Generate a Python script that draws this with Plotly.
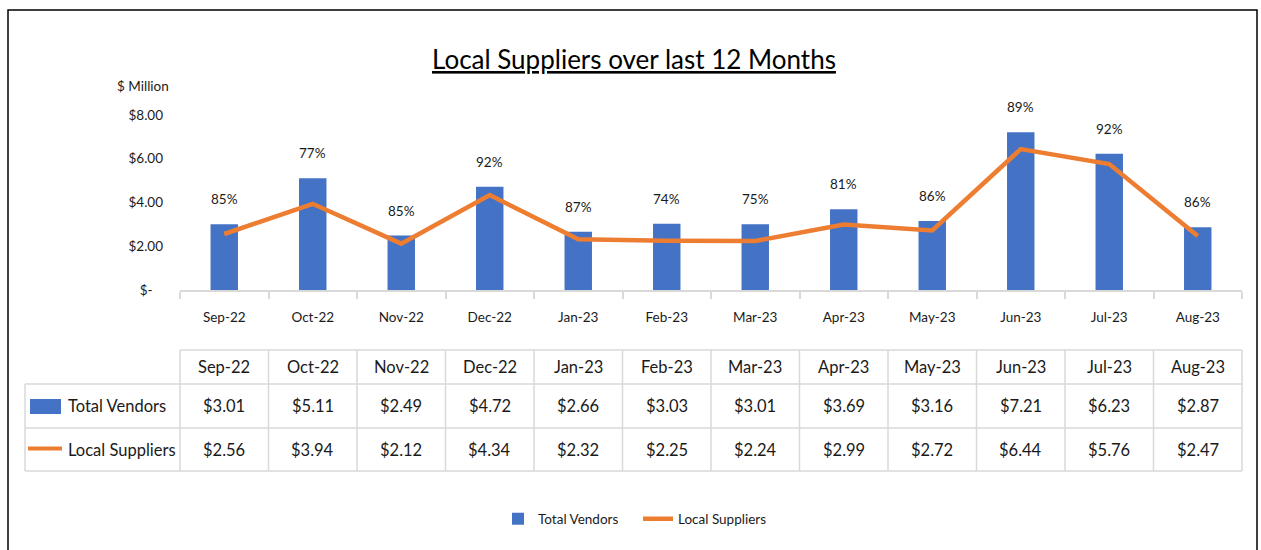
import plotly.graph_objects as go

months = ["Sep-22", "Oct-22", "Nov-22", "Dec-22", "Jan-23", "Feb-23",
          "Mar-23", "Apr-23", "May-23", "Jun-23", "Jul-23", "Aug-23"]
total_vendors = [3.01, 5.11, 2.49, 4.72, 2.66, 3.03, 3.01, 3.69, 3.16, 7.21, 6.23, 2.87]
local_suppliers = [2.56, 3.94, 2.12, 4.34, 2.32, 2.25, 2.24, 2.99, 2.72, 6.44, 5.76, 2.47]
local_share = ["85%", "77%", "85%", "92%", "87%", "74%", "75%", "81%", "86%", "89%", "92%", "86%"]
y_tickvals = [0, 2, 4, 6, 8]
y_ticktext = ["$-\u00a0\u00a0\u00a0", "$2.00", "$4.00", "$6.00", "$8.00"]

W, H = 1261, 550
FONT = "Lato, Liberation Sans, sans-serif"
BLUE = "#4472C4"
ORANGE = "#ED7D31"
GRID = "#D9D9D9"
TXT = "#1a1a1a"

# photographed picture maps page y -> SHOT_TOP + SHOT_SCALE * y
SHOT_TOP, SHOT_SCALE = 8.0, 534.0 / 550.0

x_left, x_right = 180, 1242
y_zero, y_top = 290, 115
xd0, xd1 = x_left / W, x_right / W
n = len(months)


def px(xp):
    return xp / W


def py(yp):
    page_y = (yp - SHOT_TOP) / SHOT_SCALE
    return (H - page_y) / H


def col_edge(k):
    return xd0 + (xd1 - xd0) * k / n


fig = go.Figure()
fig.add_trace(go.Bar(x=months, y=total_vendors, name="Total Vendors",
                     marker=dict(color=BLUE, line=dict(width=0)), hoverinfo="x+y"))
fig.add_trace(go.Scatter(x=months, y=local_suppliers, name="Local Suppliers", mode="lines",
                         line=dict(color=ORANGE, width=4.5)))

annotations = []
for m, v, s in zip(months, total_vendors, local_share):
    annotations.append(dict(x=m, y=v, xref="x", yref="y", text=s, showarrow=False,
                            xanchor="center", yanchor="bottom", yshift=15,
                            font=dict(family=FONT, size=13.5, color=TXT)))
annotations.append(dict(x=px(634), y=py(59), xref="paper", yref="paper",
                        text="<u>Local Suppliers over last 12 Months</u>",
                        xanchor="center", yanchor="middle",
                        showarrow=False, font=dict(family=FONT, size=26, color="#000000")))
annotations.append(dict(x=px(143), y=py(86), xref="paper", yref="paper",
                        text="$ Million", showarrow=False, xanchor="center", yanchor="middle",
                        font=dict(family=FONT, size=13.5, color=TXT)))

row_h = [350, 384, 428, 471]
hdr_c = (row_h[0] + row_h[1]) / 2
r1_c = (row_h[1] + row_h[2]) / 2
r2_c = (row_h[2] + row_h[3]) / 2
tfont = dict(family=FONT, size=16.5, color=TXT)
for i, m in enumerate(months):
    annotations.append(dict(x=m, y=py(hdr_c), xref="x", yref="paper", text=m,
                            xanchor="center", yanchor="middle", showarrow=False, font=tfont))
    annotations.append(dict(x=m, y=py(r1_c), xref="x", yref="paper", xanchor="center",
                            yanchor="middle", text=f"${total_vendors[i]:.2f}",
                            showarrow=False, font=tfont))
    annotations.append(dict(x=m, y=py(r2_c), xref="x", yref="paper", xanchor="center",
                            yanchor="middle", text=f"${local_suppliers[i]:.2f}",
                            showarrow=False, font=tfont))
annotations.append(dict(x=px(66), y=py(r1_c), xref="paper", yref="paper", text="Total Vendors",
                        xanchor="left", yanchor="middle", showarrow=False, font=tfont))
annotations.append(dict(x=px(66), y=py(r2_c), xref="paper", yref="paper", text="Local Suppliers",
                        xanchor="left", yanchor="middle", showarrow=False, font=tfont))

shapes = []
lw = 1.5
shapes.append(dict(type="rect", xref="paper", yref="paper", x0=px(8), x1=px(1257),
                   y0=py(575), y1=py(10), line=dict(color="#000000", width=1.5),
                   fillcolor="rgba(0,0,0,0)", layer="below"))
shapes.append(dict(type="line", xref="paper", yref="paper", x0=col_edge(0), x1=col_edge(n),
                   y0=py(row_h[0]), y1=py(row_h[0]), line=dict(color=GRID, width=lw)))
for yy in row_h[1:]:
    shapes.append(dict(type="line", xref="paper", yref="paper", x0=px(25), x1=col_edge(n),
                       y0=py(yy), y1=py(yy), line=dict(color=GRID, width=lw)))
shapes.append(dict(type="line", xref="paper", yref="paper", x0=px(25), x1=px(25),
                   y0=py(row_h[1]), y1=py(row_h[3]), line=dict(color=GRID, width=lw)))
for k in range(n + 1):
    shapes.append(dict(type="line", xref="paper", yref="paper", x0=col_edge(k), x1=col_edge(k),
                       y0=py(row_h[0]), y1=py(row_h[3]), line=dict(color=GRID, width=lw)))
shapes.append(dict(type="rect", xref="paper", yref="paper", x0=px(30), x1=px(61),
                   y0=py(414), y1=py(399), fillcolor=BLUE, line=dict(width=0)))
shapes.append(dict(type="line", xref="paper", yref="paper", x0=px(28), x1=px(62),
                   y0=py(r2_c - 1), y1=py(r2_c - 1), line=dict(color=ORANGE, width=4)))

fig.update_layout(
    width=W, height=H,
    margin=dict(l=0, r=0, t=0, b=0),
    paper_bgcolor="white", plot_bgcolor="white",
    font=dict(family=FONT, size=14, color=TXT),
    bargap=0.69,
    showlegend=True,
    legend=dict(orientation="h", x=px(498), xanchor="left", y=py(519), yanchor="middle",
                font=dict(family=FONT, size=13.5, color=TXT), itemwidth=30,
                entrywidth=95, entrywidthmode="pixels", traceorder="normal"),
    xaxis=dict(domain=[xd0, xd1], type="category", showline=True, linecolor=GRID, linewidth=1.5,
               ticks="outside", tickson="boundaries", ticklen=7, tickcolor=GRID, tickwidth=1.5,
               showgrid=False, tickfont=dict(family=FONT, size=13.5, color=TXT),
               ticklabelstandoff=14, range=[-0.5, n - 0.5], fixedrange=True),
    yaxis=dict(domain=[py(y_zero), py(y_top)], range=[0, 8], tickvals=y_tickvals,
               ticktext=y_ticktext, showgrid=False, zeroline=False, showline=False,
               tickfont=dict(family=FONT, size=13.5, color=TXT), ticklabelstandoff=16,
               fixedrange=True),
    annotations=annotations,
    shapes=shapes,
)

post = (
    "var gd=document.getElementById('{plot_id}');"
    "document.documentElement.style.margin='0';"
    "document.body.style.margin='0';"
    "document.documentElement.style.overflow='hidden';"
    "gd.style.position='absolute';gd.style.top='0px';gd.style.left='0px';"
)
fig.write_html("out.html", config={"displayModeBar": False}, post_script=post)
